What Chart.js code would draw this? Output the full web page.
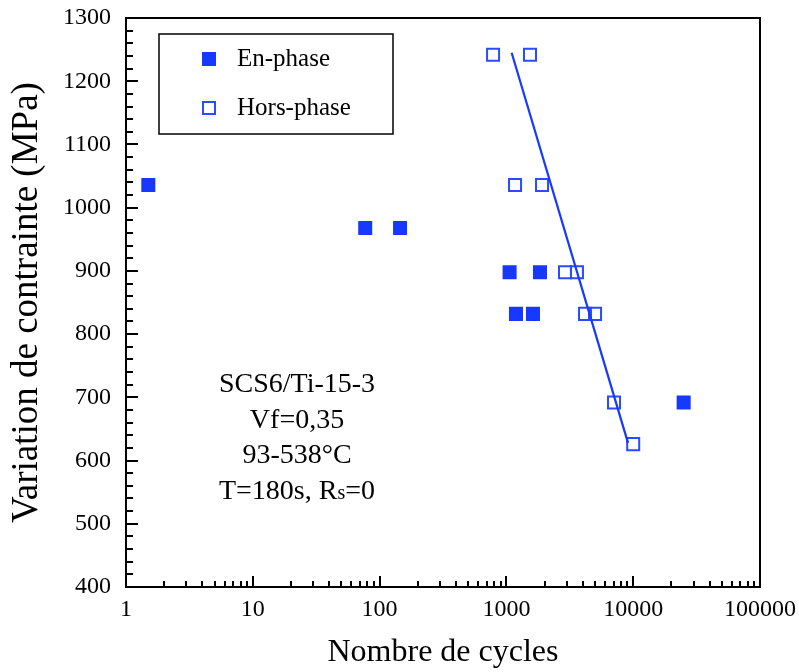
<!DOCTYPE html>
<html>
<head>
<meta charset="utf-8">
<script src="https://cdn.jsdelivr.net/npm/chart.js@4/dist/chart.umd.min.js"></script>
<style>
html, body { margin: 0; padding: 0; background: #fff; }
</style>
</head>
<body>
<canvas id="chart" width="799" height="672"></canvas>
<script>
// values
var enPhaseCycles = [1.5, 77, 145, 1060, 1840, 1190, 1620, 25000];
var enPhaseStress = [1036, 968, 968, 898, 898, 832, 832, 692];
var horsPhaseCycles = [785, 1535, 1170, 1910, 2900, 3600, 4170, 5000, 7060, 10000];
var horsPhaseStress = [1242, 1242, 1036, 1036, 898, 898, 832, 832, 692, 626];
var fitCycles = [1100, 9100];
var fitStress = [1245, 628];
var xTicks = [1, 10, 100, 1000, 10000, 100000];
var yTicks = [400, 500, 600, 700, 800, 900, 1000, 1100, 1200, 1300];
var noteLines = [
	[{ t: 'SCS6/Ti-15-3' }],
	[{ t: 'Vf=0,35' }],
	[{ t: '93-538°C' }],
	[{ t: 'T=180s, R' }, { t: 's', small: true }, { t: '=0' }]
];

var blue = '#1638ff';
var serif = '"Liberation Serif", "DejaVu Serif", serif';

function toPoints(xs, ys) {
	var pts = [];
	for (var i = 0; i < xs.length; i++) pts.push({ x: xs[i], y: ys[i] });
	return pts;
}

// frame, inward ticks, legend box and the text note
var decorPlugin = {
	id: 'decor',
	afterDraw: function (chart) {
		var ctx = chart.ctx;
		var a = chart.chartArea;
		var xs = chart.scales.x, ys = chart.scales.y;
		ctx.save();
		ctx.strokeStyle = '#000';
		ctx.lineWidth = 2;
		ctx.strokeRect(a.left, a.top, a.right - a.left, a.bottom - a.top);

		ctx.beginPath();
		// y ticks
		for (var v = yTicks[0]; v <= yTicks[yTicks.length - 1]; v += 20) {
			var py = Math.round(ys.getPixelForValue(v));
			var len = (v % 100 === 0) ? 12 : 7;
			ctx.moveTo(a.left, py);
			ctx.lineTo(a.left + len, py);
		}
		// x ticks
		for (var d = 0; d < xTicks.length; d++) {
			var px = Math.round(xs.getPixelForValue(xTicks[d]));
			ctx.moveTo(px, a.bottom);
			ctx.lineTo(px, a.bottom - 11);
			if (d < xTicks.length - 1) {
				for (var m = 2; m <= 9; m++) {
					var pm = Math.round(xs.getPixelForValue(xTicks[d] * m));
					ctx.moveTo(pm, a.bottom);
					ctx.lineTo(pm, a.bottom - 6);
				}
			}
		}
		ctx.stroke();

		// legend
		ctx.lineWidth = 1.5;
		ctx.strokeRect(159, 34, 234, 100);
		ctx.font = '25px ' + serif;
		ctx.textBaseline = 'middle';
		ctx.fillStyle = '#000';
		var ds = chart.data.datasets;
		for (var i = 0; i < 2; i++) {
			var ly = 59 + i * 49;
			if (i === 0) {
				ctx.fillStyle = ds[1].backgroundColor;
				ctx.fillRect(202, ly - 7, 14, 14);
			} else {
				ctx.strokeStyle = ds[2].borderColor;
				ctx.lineWidth = 2;
				ctx.strokeRect(203, ly - 6, 12, 12);
			}
			ctx.fillStyle = '#000';
			ctx.textAlign = 'left';
			ctx.fillText(ds[i + 1].label, 237, ly);
		}

		// note
		ctx.textBaseline = 'alphabetic';
		ctx.fillStyle = '#000';
		for (var k = 0; k < noteLines.length; k++) {
			var segs = noteLines[k];
			var w = 0;
			for (var s = 0; s < segs.length; s++) {
				ctx.font = (segs[s].small ? '20px ' : '28px ') + serif;
				w += ctx.measureText(segs[s].t).width;
			}
			var x0 = 297 - w / 2;
			var by = 392 + k * 35.5;
			ctx.textAlign = 'left';
			for (var s2 = 0; s2 < segs.length; s2++) {
				ctx.font = (segs[s2].small ? '20px ' : '28px ') + serif;
				ctx.fillText(segs[s2].t, x0, by);
				x0 += ctx.measureText(segs[s2].t).width;
			}
		}
		ctx.restore();
	}
};

var ctx = document.getElementById('chart');
var chart = new Chart(ctx, {
	type: 'scatter',
	data: {
		datasets: [{
			type: 'line',
			label: 'fit',
			data: toPoints(fitCycles, fitStress),
			borderColor: blue,
			borderWidth: 2.2,
			pointRadius: 0,
			fill: false,
			order: 0
		}, {
			label: 'En-phase',
			data: toPoints(enPhaseCycles, enPhaseStress),
			pointStyle: 'rect',
			pointRadius: 8.5,
			backgroundColor: blue,
			borderColor: blue,
			borderWidth: 2,
			order: 1
		}, {
			label: 'Hors-phase',
			data: toPoints(horsPhaseCycles, horsPhaseStress),
			pointStyle: 'rect',
			pointRadius: 8.5,
			backgroundColor: 'rgba(255,255,255,0)',
			borderColor: '#2a4bff',
			borderWidth: 2,
			order: 2
		}]
	},
	options: {
		responsive: false,
		animation: false,
		layout: { padding: { left: 0, top: 18, right: 39, bottom: 0 } },
		plugins: {
			legend: { display: false },
			tooltip: { enabled: false }
		},
		scales: {
			x: {
				type: 'logarithmic',
				min: 1,
				max: 100000,
				afterBuildTicks: function (scale) {
					scale.ticks = xTicks.map(function (v) { return { value: v }; });
				},
				afterFit: function (scale) {
					scale.height = 85;
					scale.paddingLeft = 0;
					scale.paddingRight = 0;
				},
				grid: { display: false, drawTicks: false },
				border: { display: false },
				ticks: {
					autoSkip: false,
					maxRotation: 0,
					padding: 8,
					color: '#000',
					font: { family: serif, size: 24 },
					callback: function (v) { return String(v); }
				},
				title: {
					display: true,
					text: 'Nombre de cycles',
					color: '#000',
					font: { family: serif, size: 32 },
					padding: { top: 0, bottom: 0 }
				}
			},
			y: {
				min: 400,
				max: 1300,
				afterBuildTicks: function (scale) {
					scale.ticks = yTicks.map(function (v) { return { value: v }; });
				},
				afterFit: function (scale) {
					scale.width = 126;
					scale.paddingTop = 0;
					scale.paddingBottom = 0;
				},
				grid: { display: false, drawTicks: false },
				border: { display: false },
				ticks: {
					padding: 15,
					color: '#000',
					font: { family: serif, size: 24 },
					callback: function (v) { return String(v); }
				},
				title: {
					display: true,
					text: 'Variation de contrainte (MPa)',
					color: '#000',
					font: { family: serif, size: 37 },
					padding: { top: 5, bottom: 0 }
				}
			}
		}
	},
	plugins: [decorPlugin]
});
</script>
</body>
</html>
